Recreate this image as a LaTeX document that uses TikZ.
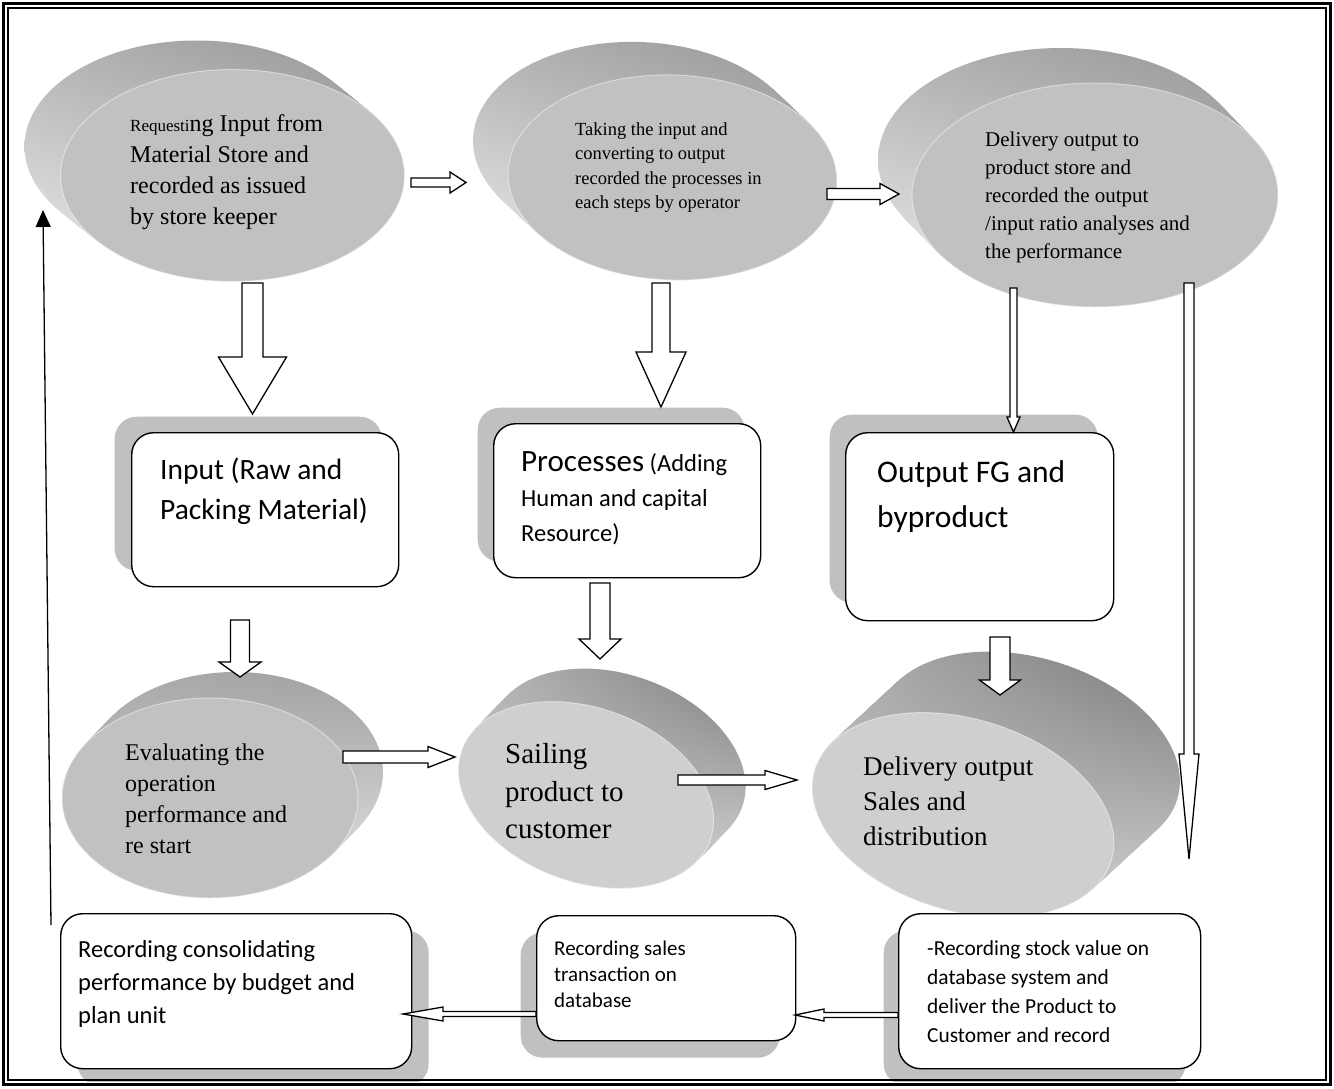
\documentclass[tikz,border=0pt]{standalone}
\usepackage{fontspec}
\setmainfont{Liberation Serif}
\newfontfamily\calfont{Carlito}
\usetikzlibrary{shadows,shadings,arrows.meta,calc}
\definecolor{faceA}{HTML}{C1C1C1}
\definecolor{faceE}{HTML}{CFCFCF}
\definecolor{shadowgray}{HTML}{C0C0C0}
\definecolor{aUL}{HTML}{B0B0B0}\definecolor{aUR}{HTML}{939393}\definecolor{aLL}{HTML}{F0F0F0}\definecolor{aLR}{HTML}{C8C8C8}
\definecolor{dUL}{HTML}{ACACAC}\definecolor{dUR}{HTML}{9C9C9C}\definecolor{dLL}{HTML}{C8C8C8}\definecolor{dLR}{HTML}{ECECEC}
\definecolor{eUL}{HTML}{BDBDBD}\definecolor{eUR}{HTML}{7A7A7A}\definecolor{eLL}{HTML}{C8C8C8}\definecolor{eLR}{HTML}{DADADA}
\definecolor{fUL}{HTML}{B4B4B4}\definecolor{fUR}{HTML}{767676}\definecolor{fLL}{HTML}{C0C0C0}\definecolor{fLR}{HTML}{D6D6D6}
\tikzset{
  sideA/.style={upper left=aUL, upper right=aUR, lower left=aLL, lower right=aLR},
  sideD/.style={upper left=dUL, upper right=dUR, lower left=dLL, lower right=dLR},
  sideE/.style={upper left=eUL, upper right=eUR, lower left=eLL, lower right=eLR},
  sideF/.style={upper left=fUL, upper right=fUR, lower left=fLL, lower right=fLR},
  rim/.style={draw=white, line width=1pt, opacity=0.45},
  stxt/.style 2 args={font=\fontsize{#1}{#2}\selectfont, align=left, inner sep=0pt, anchor=north west},
  ctxt/.style 2 args={font=\calfont\fontsize{#1}{#2}\selectfont, align=left, inner sep=0pt, anchor=north west},
  box/.style={draw, line width=1.4pt, fill=white, rounded corners=22pt, inner sep=0pt, anchor=north west},
  blk/.style={draw, line width=1.3pt, fill=white, line join=miter},
}
% extruded disc: cx cy a b rot dx dy sidestyle facecolor
\newcommand\disk[9]{%
  \foreach \k in {0,...,40}{%
    \pgfmathsetmacro\ff{1-\k/40}%
    \begin{scope}
      \clip[shift={({#1+\ff*(#6)},{#2+\ff*(#7)})},rotate=#5] (0,0) ellipse [x radius=#3,y radius=#4];
      \shade[#8] ({#1-#3+min(#6,0)-2},{#2-#4+min(#7,0)-12}) rectangle ({#1+#3+max(#6,0)+2},{#2+#4+max(#7,0)+12});
    \end{scope}
  }%
  \fill[#9,shift={(#1,#2)},rotate=#5] (0,0) ellipse [x radius=#3,y radius=#4];
  \draw[rim,shift={(#1,#2)},rotate=#5] (0,0) ellipse [x radius=#3,y radius=#4];
}
% hollow block arrows: start, tip, shaft half width, head half width, head length
\newcommand\arrD[5]{\draw[blk] let \p1=(#1), \p2=(#2) in (\x1-#3pt,\y1) -- (\x1-#3pt,\y2+#5pt) -- (\x1-#4pt,\y2+#5pt) -- (\x1,\y2) -- (\x1+#4pt,\y2+#5pt) -- (\x1+#3pt,\y2+#5pt) -- (\x1+#3pt,\y1) -- cycle;}
\newcommand\arrR[5]{\draw[blk] let \p1=(#1), \p2=(#2) in (\x1,\y1-#3pt) -- (\x2-#5pt,\y1-#3pt) -- (\x2-#5pt,\y1-#4pt) -- (\x2,\y1) -- (\x2-#5pt,\y1+#4pt) -- (\x2-#5pt,\y1+#3pt) -- (\x1,\y1+#3pt) -- cycle;}
\newcommand\arrL[5]{\draw[blk] let \p1=(#1), \p2=(#2) in (\x1,\y1-#3pt) -- (\x2+#5pt,\y1-#3pt) -- (\x2+#5pt,\y1-#4pt) -- (\x2,\y1) -- (\x2+#5pt,\y1+#4pt) -- (\x2+#5pt,\y1+#3pt) -- (\x1,\y1+#3pt) -- cycle;}
\begin{document}
\begin{tikzpicture}[x=1pt,y=-1pt]
\useasboundingbox (0,0) rectangle (1334,1088);
\fill[white] (0,0) rectangle (1334,1088);

% discs
\disk{232.5}{175.5}{172}{106}{0}{-36}{-29}{sideA}{faceA}
\disk{672.5}{177.5}{164.5}{102.5}{-2}{-35}{-33}{sideA}{faceA}
\disk{1095}{195}{183}{112}{0}{-34}{-35}{sideA}{faceA}
\disk{210}{798}{148}{100}{0}{25}{-26}{sideD}{faceA}
\disk{586}{795}{132}{87}{-20}{32}{-33}{sideE}{faceE}
\disk{963}{815}{155}{96}{-17}{66}{-61}{sideF}{faceE}

% disc texts
\node[stxt={24}{31}] (tA) at (130,114.6) {{\fontsize{17}{31}\selectfont Requesti}ng Input from\\Material Store and\\recorded as issued\\by store keeper};
\node[stxt={18.5}{24.3}] (tB) at (575,122.4) {Taking the input and\\converting to output\\recorded the processes in\\each steps by operator};
\node[stxt={21}{28}] (tC) at (985,131.7) {Delivery output to\\product store and\\recorded the output\\/input ratio analyses and\\the performance};
\node[stxt={24}{31}] (tD) at (125,743.6) {Evaluating the\\operation\\performance and\\re start};
\node[stxt={29}{37.5}] (tE) at (505,743.2) {Sailing\\product to\\customer};
\node[stxt={27}{35}] (tF) at (863,756.6) {Delivery output\\Sales and\\distribution};

% boxes
\node[box, minimum width=267pt, minimum height=154pt, drop shadow={shadow xshift=-17pt, shadow yshift=16pt, fill=shadowgray, opacity=1, draw=none}] (bInput) at (131,432) {};
\node[box, minimum width=267pt, minimum height=154pt, drop shadow={shadow xshift=-16pt, shadow yshift=16pt, fill=shadowgray, opacity=1, draw=none}] (bProc) at (493,423) {};
\node[box, minimum width=268pt, minimum height=188pt, drop shadow={shadow xshift=-16pt, shadow yshift=18pt, fill=shadowgray, opacity=1, draw=none}] (bOut) at (845,432) {};
\node[box, minimum width=351pt, minimum height=155pt, drop shadow={shadow xshift=17pt, shadow yshift=-17pt, fill=shadowgray, opacity=1, draw=none}] (bG) at (60,913) {};
\node[box, minimum width=259pt, minimum height=125pt, drop shadow={shadow xshift=-16pt, shadow yshift=-17pt, fill=shadowgray, opacity=1, draw=none}] (bH) at (536,915) {};
\node[box, minimum width=302pt, minimum height=155pt, drop shadow={shadow xshift=-15pt, shadow yshift=-17pt, fill=shadowgray, opacity=1, draw=none}] (bI) at (898,913) {};

% box texts
\node[ctxt={29.5}{40}] (tInput) at (160,458) {Input (Raw and\\Packing Material)};
\node[ctxt={24.5}{35}] (tProc) at (521,451) {{\fontsize{31}{35}\selectfont Processes} (Adding\\Human and capital\\Resource)};
\node[ctxt={31.5}{45}] (tOut) at (877,460.3) {Output FG and\\byproduct};
\node[ctxt={24.5}{33}] (tG) at (78,940) {Recording consolidating\\performance by budget and\\plan unit};
\node[ctxt={21}{26}] (tH) at (554,940.5) {Recording sales\\transaction on\\database};
\node[ctxt={21.4}{29}] (tI) at (927,940) {-Recording stock value on\\database system and\\deliver the Product to\\Customer and record};

% connector end points
\coordinate (AB1) at (411,182.5); \coordinate (AB2) at (466,182.5);
\coordinate (BC1) at (827,194);   \coordinate (BC2) at (899,194);
\coordinate (AI1) at (252.5,283); \coordinate (AI2) at (252.5,414);
\coordinate (BP1) at (661,283);   \coordinate (BP2) at (661,407);
\coordinate (CO1) at (1013.5,288);\coordinate (CO2) at (1013.5,432);
\coordinate (CL1) at (1189,283);  \coordinate (CL2) at (1189,859);
\coordinate (ID1) at (240,620);   \coordinate (ID2) at (240,677);
\coordinate (PE1) at (600,583);   \coordinate (PE2) at (600,659);
\coordinate (OF1) at (1000,637);  \coordinate (OF2) at (1000,695);
\coordinate (DE1) at (343,757);   \coordinate (DE2) at (455,757);
\coordinate (EF1) at (678,780);   \coordinate (EF2) at (797,780);
\coordinate (IH1) at (898,1015);  \coordinate (IH2) at (795,1015);
\coordinate (HG1) at (536,1014);  \coordinate (HG2) at (403,1014);
\coordinate (FB1) at (51,925);    \coordinate (FB2) at (43,210);

\arrR{AB1}{AB2}{4.5}{10.5}{16}
\arrR{BC1}{BC2}{5.5}{10.5}{19}
\arrD{AI1}{AI2}{10.5}{34}{57}
\arrD{BP1}{BP2}{9}{25}{55}
\arrD{CO1}{CO2}{3.5}{6.5}{15}
\arrD{CL1}{CL2}{5}{10}{105}
\arrD{ID1}{ID2}{9.5}{21}{15}
\arrD{PE1}{PE2}{10}{21}{20}
\arrD{OF1}{OF2}{10}{20.5}{15}
\arrR{DE1}{DE2}{6}{10.5}{27}
\arrR{EF1}{EF2}{5}{9.5}{32}
\arrL{IH1}{IH2}{2.5}{6}{29}
\arrL{HG1}{HG2}{2.5}{7}{40}
\draw[line width=1.3pt, -{Triangle[length=17pt,width=15pt]}] (FB1) -- (FB2);

% frame (on top)
\fill[white] (0,1082) rectangle (1334,1088);
\draw[line width=3.4pt] (3.3,3.3) rectangle (1330.7,1084.7);
\draw[line width=2pt] (7.9,7.9) rectangle (1326.1,1080.1);
\end{tikzpicture}
\end{document}
